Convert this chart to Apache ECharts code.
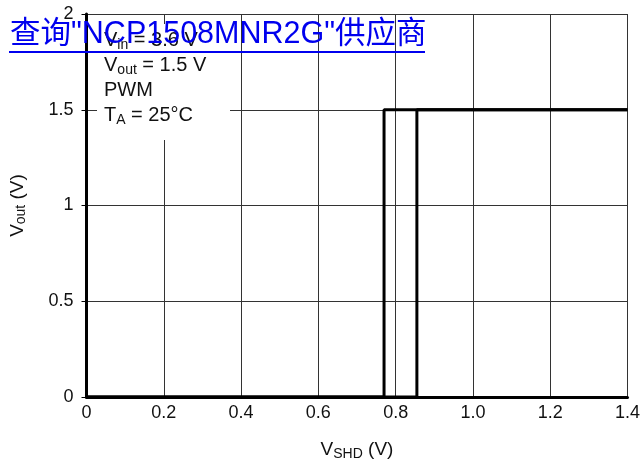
<!DOCTYPE html>
<html><head><meta charset="utf-8">
<script src="https://cdn.jsdelivr.net/npm/echarts@6/dist/echarts.min.js"></script>
<style>html,body{margin:0;padding:0;background:#fff}#c{width:643px;height:466px}</style>
</head><body><div id="c"></div>
<script>
const xTickLabels = ['0','0.2','0.4','0.6','0.8','1.0','1.2','1.4'];
const yTickLabels = ['0','0.5','1','1.5','2'];
const risingX = [0, 0.855, 0.855, 1.4];
const risingY = [0, 0, 1.5, 1.5];
const fallingX = [1.4, 0.77, 0.77, 0];
const fallingY = [1.5, 1.5, 0, 0];
const titleText = '查询"NCP1508MNR2G"供应商';

const FONT = '"Liberation Sans", Arial, Helvetica, sans-serif';
const chart = echarts.init(document.getElementById('c'));
const pair = (xs, ys) => xs.map((x, i) => [x, ys[i]]);
const nameRich = { n: { fontSize: 19, color: '#111', fontFamily: FONT }, s: { fontSize: 14, color: '#111', fontFamily: FONT, padding: [8, 0, 0, 0] } };
chart.setOption({
  animation: false,
  backgroundColor: '#fff',
  grid: { left: 84, right: 11, top: 14, bottom: 68 },
  xAxis: {
    type: 'value', min: 0, max: 1.4, interval: 0.2,
    axisLine: { show: true, lineStyle: { color: '#000', width: 3 } },
    axisTick: { show: false },
    splitLine: { show: true, lineStyle: { color: '#333', width: 1 } },
    axisLabel: { color: '#111', fontSize: 18, fontFamily: FONT, margin: 7,
      formatter: v => xTickLabels[Math.round(v / 0.2)] },
    name: '{n|V}{s|SHD}{n| (V)}', nameLocation: 'middle', nameGap: 42,
    nameTextStyle: { rich: nameRich }
  },
  yAxis: {
    type: 'value', min: 0, max: 2, interval: 0.5,
    axisLine: { show: true, lineStyle: { color: '#000', width: 3 } },
    axisTick: { show: true, length: 5, lineStyle: { color: '#000', width: 1 } },
    splitLine: { show: true, lineStyle: { color: '#333', width: 1 } },
    axisLabel: { color: '#111', fontSize: 18, fontFamily: FONT, margin: 13,
      formatter: v => yTickLabels[Math.round(v / 0.5)] },
    name: '{n|V}{s|out}{n| (V)}', nameLocation: 'middle', nameGap: 58,
    nameTextStyle: { rich: nameRich }
  },
  series: [
    { type: 'line', data: pair(risingX, risingY), symbol: 'none', lineStyle: { color: '#000', width: 3 }, z: 5 },
    { type: 'line', data: pair(fallingX, fallingY), symbol: 'none', lineStyle: { color: '#000', width: 3 }, z: 5 }
  ],
  graphic: [
    { type: 'rect', left: 97, top: 24, shape: { width: 133, height: 116 }, style: { fill: '#fff' }, z: 10 },
    { type: 'text', left: 104, top: 29, z: 11, style: {
        text: '{n|V}{s|in}{n| = 3.6 V}\n{n|V}{s|out}{n| = 1.5 V}\n{n|PWM}\n{n|T}{s|A}{n| = 25°C}',
        rich: { n: { fontSize: 20, fill: '#111', fontFamily: FONT, lineHeight: 25 },
                s: { fontSize: 14, fill: '#111', fontFamily: FONT, lineHeight: 25, padding: [9, 0, 0, 0] } } } },
    { type: 'text', left: 10, top: 19, z: 20, style: { text: titleText, fontSize: 30.5, fill: '#0000ee',
        fontFamily: '"Liberation Sans", "Noto Sans CJK SC", sans-serif' } },
    { type: 'line', z: 20, shape: { x1: 9, y1: 52, x2: 425, y2: 52 }, style: { stroke: '#0000ee', lineWidth: 2 } }
  ]
});
</script></body></html>
